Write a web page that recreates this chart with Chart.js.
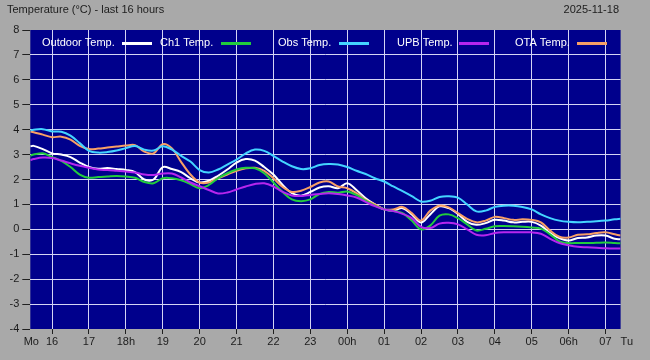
<!DOCTYPE html>
<html><head><meta charset="utf-8">
<script src="https://cdn.jsdelivr.net/npm/chart.js@4/dist/chart.umd.min.js"></script>
<style>html,body{margin:0;padding:0;background:#a9a9a9;}#wrap{width:650px;height:360px;position:relative}</style>
</head><body><div id="wrap"><canvas id="c" width="650" height="360"></canvas></div>
<script>
// sample times (hours since Monday 00:00; 24 = Tuesday 00h)
const hours = [15.41,15.5,15.75,16,16.25,16.5,16.75,17,17.25,17.5,17.75,18,18.25,18.5,18.75,19,19.25,19.5,19.75,20,20.25,20.5,20.75,21,21.25,21.5,21.75,22,22.25,22.5,22.75,23,23.25,23.5,23.75,24,24.25,24.5,24.75,25,25.25,25.5,25.75,26,26.25,26.5,26.75,27,27.25,27.5,27.75,28,28.25,28.5,28.75,29,29.25,29.5,29.75,30,30.25,30.5,30.75,31,31.25,31.41];

const outdoorTemp = [3.33,3.35,3.22,3.05,3.0,2.9,2.68,2.5,2.43,2.46,2.42,2.38,2.3,2.0,2.0,2.5,2.42,2.3,2.05,1.88,1.95,2.15,2.4,2.68,2.82,2.76,2.5,2.2,1.78,1.45,1.35,1.5,1.68,1.73,1.65,1.85,1.58,1.25,1.0,0.8,0.75,0.85,0.6,0.27,0.6,0.92,0.85,0.62,0.3,0.18,0.25,0.38,0.35,0.28,0.3,0.3,0.15,-0.15,-0.35,-0.45,-0.35,-0.33,-0.25,-0.25,-0.38,-0.4];

const ch1Temp = [2.96,3.0,3.05,2.9,2.75,2.5,2.2,2.07,2.1,2.12,2.14,2.12,2.07,1.9,1.85,2.05,2.05,1.97,1.82,1.65,1.78,2.05,2.25,2.4,2.47,2.45,2.25,1.88,1.5,1.2,1.13,1.2,1.42,1.5,1.47,1.52,1.38,1.15,0.95,0.8,0.73,0.65,0.35,0.0,0.15,0.55,0.6,0.45,0.2,-0.05,0.02,0.12,0.13,0.12,0.1,0.07,0.03,-0.2,-0.48,-0.55,-0.55,-0.55,-0.54,-0.53,-0.55,-0.56];

const obsTemp = [3.97,4.0,4.02,3.93,3.92,3.76,3.46,3.15,3.08,3.1,3.16,3.26,3.34,3.2,3.16,3.33,3.2,2.95,2.72,2.38,2.28,2.4,2.6,2.8,3.05,3.2,3.15,2.95,2.72,2.53,2.42,2.45,2.58,2.62,2.6,2.5,2.35,2.22,2.05,1.92,1.72,1.53,1.33,1.12,1.15,1.3,1.33,1.27,1.0,0.72,0.75,0.9,0.95,0.95,0.9,0.8,0.6,0.45,0.35,0.3,0.28,0.3,0.32,0.35,0.4,0.42];

const upbTemp = [2.78,2.82,2.88,2.86,2.76,2.65,2.55,2.47,2.4,2.38,2.35,2.32,2.28,2.2,2.18,2.24,2.24,2.08,1.88,1.73,1.58,1.44,1.48,1.6,1.72,1.82,1.85,1.72,1.5,1.36,1.34,1.38,1.42,1.45,1.42,1.36,1.28,1.1,0.93,0.8,0.73,0.62,0.45,0.1,0.05,0.23,0.26,0.2,0.0,-0.22,-0.24,-0.15,-0.12,-0.12,-0.12,-0.12,-0.18,-0.38,-0.55,-0.64,-0.7,-0.72,-0.74,-0.76,-0.77,-0.77];

const otaTemp = [3.93,3.9,3.8,3.7,3.72,3.6,3.35,3.22,3.24,3.28,3.32,3.36,3.38,3.12,3.05,3.42,3.25,2.7,2.2,1.88,1.88,2.05,2.2,2.35,2.45,2.47,2.35,2.05,1.7,1.5,1.55,1.7,1.88,1.92,1.72,1.65,1.45,1.18,1.0,0.8,0.8,0.9,0.65,0.35,0.75,0.95,0.88,0.65,0.42,0.28,0.35,0.5,0.45,0.38,0.4,0.38,0.28,-0.05,-0.3,-0.33,-0.22,-0.2,-0.15,-0.12,-0.2,-0.25];

const tickHours = [16,17,18,19,20,21,22,23,24,25,26,27,28,29,30,31];
const tickLabels = ['16','17','18h','19','20','21','22','23','00h','01','02','03','04','05','06h','07'];
const yTicks = [-4,-3,-2,-1,0,1,2,3,4,5,6,7,8];
const seriesNames = ['Outdoor Temp.','Ch1 Temp.','Obs Temp.','UPB Temp.','OTA Temp.'];
const titleText = 'Temperature (\u00B0C) - last 16 hours';
const dateText = '2025-11-18';
const startDay = 'Mo', endDay = 'Tu';

const colors = {outdoor:'#ffffff', ch1:'#22cc3c', obs:'#44d4ff', upb:'#b626ee', ota:'#f8a066'};
const seriesList = [
  {name:seriesNames[2], data:obsTemp, color:colors.obs},
  {name:seriesNames[3], data:upbTemp, color:colors.upb},
  {name:seriesNames[1], data:ch1Temp, color:colors.ch1},
  {name:seriesNames[4], data:otaTemp, color:colors.ota},
  {name:seriesNames[0], data:outdoorTemp, color:colors.outdoor}
];
const FONT = '11px "Liberation Sans", Arial, sans-serif';
const gridCol = '#d4d4f4';
const textCol = '#1c1c1c';

const decor = {
  id:'decor',
  beforeDraw(chart){
    const {ctx, chartArea:a} = chart;
    ctx.save();
    ctx.fillStyle = '#a9a9a9';
    ctx.fillRect(0,0,chart.width,chart.height);
    ctx.fillStyle = '#00008c';
    ctx.fillRect(a.left,a.top,a.right-a.left,a.bottom-a.top);
    ctx.restore();
  },
  afterDraw(chart){
    const {ctx, chartArea:a} = chart;
    ctx.save();
    ctx.font = FONT;
    ctx.fillStyle = textCol;
    ctx.textBaseline = 'middle';
    ctx.textAlign = 'left';
    ctx.fillText(titleText, 7, 10);
    ctx.textAlign = 'right';
    ctx.fillText(dateText, 619, 10);
    ctx.textAlign = 'center';
    ctx.fillText(startDay, a.left + 1, 342);
    ctx.textAlign = 'left';
    ctx.fillText(endDay, a.right + 0, 342);
    // legend
    const legendPos = [[42,122],[160,221],[278,339],[397,459],[515,577]];
    const legendCols = [colors.outdoor, colors.ch1, colors.obs, colors.upb, colors.ota];
    for (let i=0;i<seriesNames.length;i++){
      ctx.fillStyle = '#ffffff';
      ctx.textAlign = 'left';
      ctx.fillText(seriesNames[i], legendPos[i][0], 43);
      ctx.strokeStyle = legendCols[i];
      ctx.lineWidth = 3;
      ctx.beginPath();
      ctx.moveTo(legendPos[i][1], 43.5);
      ctx.lineTo(legendPos[i][1]+30, 43.5);
      ctx.stroke();
    }
    ctx.restore();
  }
};

new Chart(document.getElementById('c'), {
  type:'line',
  data:{
    datasets: seriesList.map(s => ({
      label: s.name,
      data: hours.map((h,i) => ({x:h, y:s.data[i]})),
      borderColor: s.color,
      borderWidth: 2,
      pointRadius: 0,
      tension: 0.35,
      fill: false
    }))
  },
  options:{
    responsive:false,
    animation:false,
    devicePixelRatio:1,
    layout:{padding:{top:30,right:29.4,left:0,bottom:0}},
    plugins:{legend:{display:false}, title:{display:false}, tooltip:{enabled:false}},
    scales:{
      x:{
        type:'linear', min:15.41, max:31.41,
        afterBuildTicks(scale){ scale.ticks = tickHours.map(v => ({value:v})); },
        afterFit(scale){ scale.height = 31; },
        ticks:{ autoSkip:false, maxRotation:0, color:textCol, font:{family:'"Liberation Sans", Arial, sans-serif', size:11}, padding:1,
          callback:(v) => tickLabels[tickHours.indexOf(v)] },
        grid:{ color:gridCol, tickColor:'#202020', tickLength:5, lineWidth:1 },
        border:{display:false}
      },
      y:{
        min:-4, max:8,
        afterBuildTicks(scale){ scale.ticks = yTicks.map(v => ({value:v})); },
        afterFit(scale){ scale.width = 30.3; },
        ticks:{ color:textCol, font:{family:'"Liberation Sans", Arial, sans-serif', size:11}, padding:3 },
        grid:{ color:(c) => (c.tick && (c.tick.value === 8 || c.tick.value === -4)) ? 'rgba(0,0,0,0)' : gridCol,
               tickColor:'#202020', tickLength:8, lineWidth:1 },
        border:{display:false}
      }
    }
  },
  plugins:[decor]
});
</script>
</body></html>
